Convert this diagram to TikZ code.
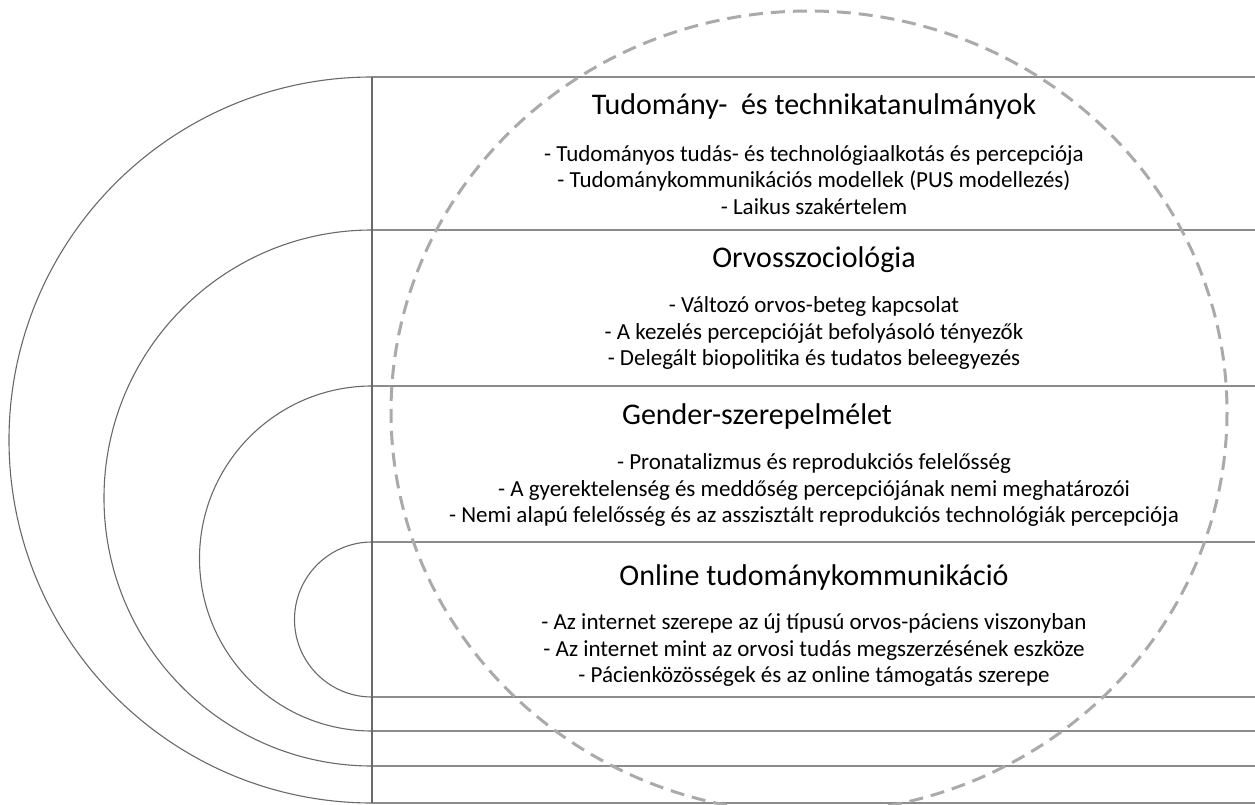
\documentclass[tikz,border=0pt]{standalone}
\usepackage{fontspec}
\setmainfont{Carlito}
\definecolor{arcgray}{RGB}{105,105,105}
\definecolor{linegray}{RGB}{140,140,140}
\definecolor{dashgray}{RGB}{170,170,170}
\tikzset{
  hline/.style={draw=linegray, line width=1.1pt},
  arcline/.style={draw=arcgray, line width=1.1pt},
  titletext/.style={font=\fontsize{30}{36}\selectfont, inner sep=0pt},
  bodytext/.style={font=\fontsize{23}{26.8}\selectfont, align=center, inner sep=0pt}
}
\begin{document}
\begin{tikzpicture}[x=1pt, y=-1pt, node distance=73pt]
\useasboundingbox (0,0) rectangle (1255,805);

% shelves
\foreach \y in {77,230,386,542,697,731,766,803}
  \draw[hline] (372,\y) -- (1255,\y);
\draw[arcline] (372,77) -- (372,803);

% half circles
\foreach \t/\r in {77/363, 230/268, 386/172.5, 542/77.5}
  \draw[arcline] (372,\t) arc (270:90:\r);

% sections
\node (t1) [titletext] at (814,107) {Tudomány-\ \ és technikatanulmányok};
\node (b1) [bodytext, below of=t1] {- Tudományos tudás- és technológiaalkotás és percepciója\\
  - Tudománykommunikációs modellek (PUS modellezés)\\
  - Laikus szakértelem};

\node (t2) [titletext] at (814,260) {Orvosszociológia};
\node (b2) [bodytext, below of=t2] {- Változó orvos-beteg kapcsolat\\
  - A kezelés percepcióját befolyásoló tényezők\\
  - Delegált biopolitika és tudatos beleegyezés};

\node (t3) [titletext] at (757,416) {Gender-szerepelmélet};
\node (b3) [bodytext] at (814,490) {- Pronatalizmus és reprodukciós felelősség\\
  - A gyerektelenség és meddőség percepciójának nemi meghatározói\\
  - Nemi alapú felelősség és az asszisztált reprodukciós technológiák percepciója};

\node (t4) [titletext] at (814,577) {Online tudománykommunikáció};
\node (b4) [bodytext, below of=t4] {- Az internet szerepe az új típusú orvos-páciens viszonyban\\
  - Az internet mint az orvosi tudás megszerzésének eszköze\\
  - Pácienközösségek és az online támogatás szerepe};

% dashed circle
\draw[dashgray, line width=3pt, dash pattern=on 14pt off 8pt] (809,412) ellipse [x radius=418, y radius=401];
\end{tikzpicture}
\end{document}
